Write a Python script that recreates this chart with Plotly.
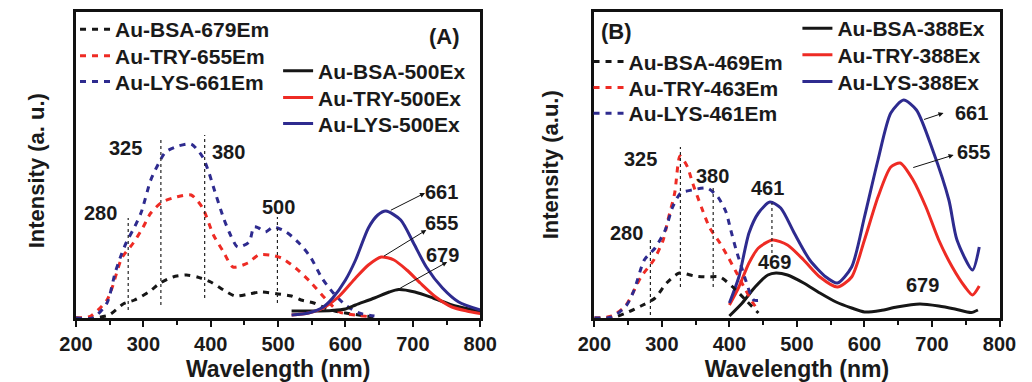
import plotly.graph_objects as go

# ---------------- data (panel A) ----------------
A_BSA_EM_X = [200, 225, 249, 270, 287, 308, 325, 344, 364, 380, 400, 419, 436, 457, 474, 500, 520, 534, 553, 570, 590, 610, 630, 650]
A_BSA_EM_Y = [0, 0, 3, 14, 18, 26, 35, 41, 43, 41, 36, 28, 22, 24, 26, 24, 22, 18, 15, 10, 6, 4, 2, 1]
A_TRY_EM_X = [200, 222, 246, 254, 268, 285, 299, 311, 328, 349, 371, 388, 404, 419, 433, 455, 471, 488, 505, 526, 548, 572, 591, 615, 640]
A_TRY_EM_Y = [0, 2, 18, 31, 60, 75, 90, 105, 116, 121, 123, 110, 83, 66, 51, 55, 63, 63, 60, 50, 36, 18, 6, 3, 1]
A_LYS_EM_X = [200, 225, 246, 258, 266, 275, 287, 297, 311, 323, 333, 352, 371, 388, 397, 404, 419, 428, 440, 457, 464, 471, 481, 493, 512, 531, 548, 565, 582, 600, 620, 643]
A_LYS_EM_Y = [0, 0, 15, 45, 61, 76, 91, 106, 138, 155, 166, 172, 174, 161, 146, 131, 100, 85, 71, 76, 91, 90, 86, 91, 86, 75, 61, 40, 25, 13, 5, 2]
A_BSA_EX_X = [520, 550, 580, 600, 615, 643, 665, 679, 703, 730, 758, 780, 800]
A_BSA_EX_Y = [7, 7, 7.5, 9, 13, 20, 26, 28.5, 26, 20, 13, 9.5, 7]
A_TRY_EX_X = [520, 545, 567, 591, 615, 634, 653, 672, 691, 711, 734, 758, 780, 800]
A_TRY_EX_Y = [3, 5, 10, 22, 40, 53, 61, 58, 48, 35, 21, 11, 7, 4.5]
A_LYS_EX_X = [520, 545, 567, 581, 600, 615, 634, 648, 660, 682, 701, 720, 744, 768, 800]
A_LYS_EX_Y = [3, 5, 11, 20, 38, 58, 90, 103, 107, 98, 75, 51, 30, 16, 8]

# ---------------- data (panel B) ----------------
B_BSA_EM_X = [200, 226, 247, 269, 290, 307, 326, 348, 367, 386, 405, 424, 443]
B_BSA_EM_Y = [0, 0, 5, 12, 20, 35, 45, 42, 41, 41, 31, 18, 5]
B_TRY_EM_X = [200, 226, 247, 269, 288, 302, 309, 319, 327, 338, 345, 359, 371, 386, 398, 410, 424, 434, 440]
B_TRY_EM_Y = [0, 2, 13, 41, 58, 78, 98, 125, 162, 151, 136, 110, 90, 75, 61, 46, 28, 16, 10]
B_LYS_EM_X = [200, 226, 247, 259, 274, 290, 305, 316, 328, 345, 367, 383, 395, 402, 410, 417, 424, 436, 448]
B_LYS_EM_Y = [0, 1, 12, 28, 58, 70, 88, 111, 125, 128, 130, 121, 106, 88, 68, 53, 38, 18, 18]
B_BSA_EX_X = [400, 419, 438, 457, 469, 486, 510, 534, 558, 581, 600, 624, 648, 682, 710, 734, 758, 768]
B_BSA_EX_Y = [2, 15, 31, 43, 45, 43, 35, 25, 16, 10, 6, 7.5, 11, 14, 12, 9, 5.5, 8]
B_TRY_EX_X = [400, 414, 429, 443, 464, 486, 510, 534, 560, 581, 600, 620, 639, 653, 672, 691, 710, 730, 749, 760, 770]
B_TRY_EX_Y = [13, 31, 55, 70, 78, 73, 58, 41, 31, 41, 78, 121, 151, 155, 138, 111, 78, 51, 31, 23, 32]
B_LYS_EX_X = [400, 414, 429, 443, 460, 476, 496, 519, 543, 560, 581, 600, 620, 639, 658, 677, 701, 725, 737, 760, 770]
B_LYS_EX_Y = [15, 41, 85, 105, 116, 110, 85, 58, 41, 35, 51, 101, 158, 205, 218, 208, 168, 118, 78, 48, 71]

# vertical dotted marker lines: wavelength, bottom, top
A_VLINE_X = [277.5, 326, 391, 499]
A_VLINE_Y0 = [8, 13, 20, 15]
A_VLINE_Y1 = [100, 180, 183, 101]
B_VLINE_X = [283, 327.5, 376, 463]
B_VLINE_Y0 = [3, 31, 31, 65]
B_VLINE_Y1 = [81, 171, 133, 115]

# peak labels: text, x, y
A_LABELS = [("280", 237, 105), ("325", 273, 170), ("380", 427, 166), ("500", 500, 111)]
B_LABELS = [("280", 247, 85), ("325", 269, 159), ("380", 375, 142), ("461", 457, 130), ("469", 467, 56), ("679", 686, 33)]
# arrowed labels: text, label x, label y, tail x, tail y, head x, head y
A_ARROWS = [("661", 742, 126, 665, 107, 718, 125), ("655", 742, 95, 655, 61, 720, 88), ("679", 744, 63, 679, 29, 751, 56)]
B_ARROWS = [("661", 758, 205, 686, 198, 717, 205), ("655", 761, 166, 670, 150, 732, 163)]

BLACK = "#161616"
RED = "#ee2b24"
BLUE = "#2e2b8f"
FONT = "Liberation Sans, Arial, sans-serif"

fig = go.Figure()

def add(x, y, name, color, dashed, xa, ya, legend):
    fig.add_trace(go.Scatter(
        x=x, y=y, name=name, mode="lines", xaxis=xa, yaxis=ya, legend=legend,
        line=dict(color=color, width=3, dash="6px,6px" if dashed else "solid",
                  shape="spline", smoothing=0.7)))

series = [
    (A_BSA_EM_X, A_BSA_EM_Y, "Au-BSA-679Em", BLACK, True, "x", "y"),
    (A_TRY_EM_X, A_TRY_EM_Y, "Au-TRY-655Em", RED, True, "x", "y"),
    (A_LYS_EM_X, A_LYS_EM_Y, "Au-LYS-661Em", BLUE, True, "x", "y"),
    (A_BSA_EX_X, A_BSA_EX_Y, "Au-BSA-500Ex", BLACK, False, "x", "y"),
    (A_TRY_EX_X, A_TRY_EX_Y, "Au-TRY-500Ex", RED, False, "x", "y"),
    (A_LYS_EX_X, A_LYS_EX_Y, "Au-LYS-500Ex", BLUE, False, "x", "y"),
    (B_BSA_EX_X, B_BSA_EX_Y, "Au-BSA-388Ex", BLACK, False, "x2", "y2"),
    (B_TRY_EX_X, B_TRY_EX_Y, "Au-TRY-388Ex", RED, False, "x2", "y2"),
    (B_LYS_EX_X, B_LYS_EX_Y, "Au-LYS-388Ex", BLUE, False, "x2", "y2"),
    (B_BSA_EM_X, B_BSA_EM_Y, "Au-BSA-469Em", BLACK, True, "x2", "y2"),
    (B_TRY_EM_X, B_TRY_EM_Y, "Au-TRY-463Em", RED, True, "x2", "y2"),
    (B_LYS_EM_X, B_LYS_EM_Y, "Au-LYS-461Em", BLUE, True, "x2", "y2"),
]
# legend placement per entry: (text-left px, row-centre px)
legend_pos = [(108, 29), (108, 55.7), (108, 81.3),
              (318, 70.7), (318, 97.3), (318, 123.3),
              (855, 28), (855, 54.7), (855, 81.3),
              (639, 61.3), (639, 87.3), (639, 113)]

W, H = 1032, 382
legend_layout = {}
for i, s in enumerate(series):
    key = "legend" if i == 0 else f"legend{i + 1}"
    add(*s, legend=key)
    tx, cy = legend_pos[i]
    legend_layout[key] = dict(
        x=(tx - 48) / W, y=1 - (cy - 20) / H, xanchor="left", yanchor="top",
        bgcolor="rgba(0,0,0,0)", borderwidth=0, itemwidth=30,
        font=dict(family=FONT, size=21, color="#1a1a1a", weight="bold"))

def vlines(xs, y0s, y1s, xa, ya):
    x, y = [], []
    for a, b, c in zip(xs, y0s, y1s):
        x += [a, a, None]
        y += [b, c, None]
    fig.add_trace(go.Scatter(x=x, y=y, mode="lines", xaxis=xa, yaxis=ya, showlegend=False,
                             line=dict(color="#222", width=1.2, dash="dot"), hoverinfo="skip"))

vlines(A_VLINE_X, A_VLINE_Y0, A_VLINE_Y1, "x", "y")
vlines(B_VLINE_X, B_VLINE_Y0, B_VLINE_Y1, "x2", "y2")

annots = []
lab_font = dict(family=FONT, size=20, color="#1a1a1a", weight="bold")
for (t, x, y), xr, yr in [(l, "x", "y") for l in A_LABELS] + [(l, "x2", "y2") for l in B_LABELS]:
    annots.append(dict(text=t, x=x, y=y, xref=xr, yref=yr, showarrow=False, font=lab_font))
for (t, lx, ly, tx, ty, hx, hy), xr, yr in [(a, "x", "y") for a in A_ARROWS] + [(a, "x2", "y2") for a in B_ARROWS]:
    annots.append(dict(text=t, x=lx, y=ly, xref=xr, yref=yr, showarrow=False, font=lab_font))
    annots.append(dict(text="", x=hx, y=hy, ax=tx, ay=ty, xref=xr, yref=yr, axref=xr, ayref=yr,
                       showarrow=True, arrowhead=2, arrowsize=1, arrowwidth=1, arrowcolor="#111"))
annots.append(dict(text="(A)", x=747, y=282, xref="x", yref="y", showarrow=False,
                   font=dict(family=FONT, size=22, color="#1a1a1a", weight="bold")))
annots.append(dict(text="(B)", x=233, y=287, xref="x2", yref="y2", showarrow=False,
                   font=dict(family=FONT, size=22, color="#1a1a1a", weight="bold")))
# y-axis titles
ytitle_font = dict(family=FONT, size=22, color="#1a1a1a", weight="bold")
annots.append(dict(text="Intensity (a. u.)", x=20 / W, y=1 - 171 / H, xref="paper", yref="paper",
                   xanchor="center", yanchor="middle",
                   textangle=-90, showarrow=False, font=ytitle_font))
annots.append(dict(text="Intensity (a.u.)", x=552 / W, y=1 - 164.5 / H, xref="paper", yref="paper",
                   xanchor="center", yanchor="middle",
                   textangle=-90, showarrow=False, font=ytitle_font))

def xaxis(domain, anchor):
    return dict(domain=domain, anchor=anchor, range=[200, 800], dtick=100, tick0=200,
                showline=True, linewidth=3, linecolor="#111", mirror=True,
                ticks="outside", ticklen=6, tickwidth=2, tickcolor="#111",
                minor=dict(dtick=50, ticks="outside", ticklen=4, tickwidth=2, tickcolor="#111"),
                showgrid=False, zeroline=False,
                tickfont=dict(family=FONT, size=20, color="#1a1a1a", weight="bold"),
                title=dict(text="Wavelength (nm)", standoff=8,
                           font=dict(family=FONT, size=23, color="#1a1a1a", weight="bold")))

def yaxis(domain, anchor):
    return dict(domain=domain, anchor=anchor, range=[0, 306], showline=True, linewidth=3,
                linecolor="#111", mirror=True, ticks="", showticklabels=False,
                showgrid=False, zeroline=False)

ydom = [1 - 318 / H, 1 - 12 / H]
fig.update_layout(
    width=W, height=H, margin=dict(l=0, r=0, t=0, b=0),
    paper_bgcolor="white", plot_bgcolor="white",
    xaxis=xaxis([61 / W, 479 / W], "y"),
    yaxis=yaxis(ydom, "x"),
    xaxis2=xaxis([597 / W, 1016 / W], "y2"),
    yaxis2=yaxis(ydom, "x2"),
    annotations=annots,
    **legend_layout,
)
fig.write_html("out.html")
